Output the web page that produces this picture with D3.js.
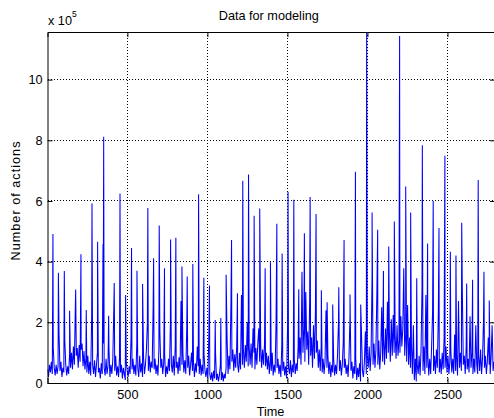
<!DOCTYPE html>
<html>
<head>
<meta charset="utf-8">
<script src="https://cdn.jsdelivr.net/npm/d3@7"></script>
<style>
  body { margin: 0; background: #fff; }
  text { font-family: "Liberation Sans", Arial, sans-serif; }
</style>
</head>
<body>
<div id="chart"></div>
<script>
// tick values
const xTicks = [500, 1000, 1500, 2000, 2500];
const yTicks = [0, 2, 4, 6, 8, 10];   // in units of 10^5

// main spikes (time, value x 10^5)
const spikeTimes = [35, 69, 106, 139, 177, 210, 243, 279, 314, 348, 352, 383, 418, 454, 489,
  526, 560, 595, 628, 664, 699, 732, 770, 803, 841, 874, 909, 945, 978, 1013,
  1049, 1084, 1117, 1151, 1188, 1221, 1257, 1292, 1327, 1361, 1394, 1434, 1467, 1504, 1540,
  1571, 1606, 1642, 1679, 1712, 1748, 1783, 1821, 1854, 1891, 1925, 1958, 1995, 2029, 2064,
  2100, 2133, 2168, 2199, 2201, 2239, 2270, 2308, 2343, 2376, 2411, 2447, 2484, 2518, 2553,
  2589, 2620, 2657, 2692, 2728, 2761];
const spikeValues = [4.91, 3.63, 3.69, 2.38, 3.08, 4.24, 2.41, 5.92, 4.66, 4.58, 8.12, 2.22, 3.30, 6.25, 2.90,
  4.45, 3.70, 3.26, 5.77, 4.11, 5.19, 3.78, 4.73, 4.79, 3.84, 3.51, 3.92, 6.22, 3.47, 3.21,
  2.08, 2.14, 3.57, 4.71, 2.96, 6.67, 6.87, 5.51, 5.75, 3.78, 3.98, 5.25, 4.27, 6.30, 6.04,
  3.09, 4.94, 6.13, 5.57, 3.06, 2.66, 2.59, 3.16, 4.71, 2.92, 6.96, 2.59, 11.57, 5.62, 5.05,
  3.69, 4.50, 5.32, 6.48, 11.44, 6.48, 5.62, 3.45, 7.84, 4.60, 6.00, 5.11, 7.49, 4.33, 4.20,
  5.28, 3.28, 3.40, 6.69, 3.67, 2.72];

// the band between spikes, one value every 6 time units starting at t = 1
const baseStart = 1, baseStep = 6;
const baseValues = [
  0.45, 0.2, 0.6, 0.35, 0.7, 0.3, 1.15, 0.5, 0.25, 0.6,
  0.3, 0.55, 1.65, 0.4, 0.7, 0.2, 0.5, 0.35, 1.4, 0.6,
  0.25, 0.55, 0.3, 0.95, 0.5, 1.0, 0.45, 1.2, 0.6, 2.55,
  0.9, 1.15, 0.5, 1.25, 0.7, 1.1, 1.3, 0.55, 1.05, 0.45,
  0.8, 0.35, 0.9, 0.3, 0.7, 0.25, 2.2, 0.6, 0.3, 0.75,
  0.2, 0.6, 1.0, 0.35, 0.5, 0.15, 0.65, 0.3, 1.3, 0.5,
  0.25, 0.8, 0.3, 0.55, 1.15, 0.2, 0.6, 0.3, 0.75, 2.38,
  0.4, 0.9, 0.25, 0.55, 0.2, 0.85, 0.35, 0.6, 0.15, 0.5,
  0.3, 0.1, 0.7, 0.4, 0.2, 0.55, 0.3, 1.5, 0.45, 0.8,
  0.3, 0.6, 0.25, 1.3, 0.5, 0.2, 0.9, 0.35, 0.65, 0.2,
  0.85, 0.3, 0.6, 1.1, 1.95, 0.4, 0.9, 0.35, 0.7, 0.5,
  2.5, 0.45, 0.8, 0.3, 0.6, 0.25, 1.1, 1.7, 0.5, 0.8,
  0.3, 0.65, 0.95, 0.2, 0.55, 0.3, 0.8, 0.4, 2.0, 0.6,
  0.35, 0.9, 0.25, 1.2, 0.5, 0.7, 0.3, 0.85, 0.4, 2.7,
  0.6, 1.0, 0.35, 0.75, 0.3, 1.8, 0.5, 0.9, 0.25, 0.6,
  1.0, 0.4, 0.7, 0.2, 0.65, 0.35, 1.2, 0.55, 0.3, 0.8,
  0.25, 0.6, 0.3, 0.95, 0.4, 0.2, 0.5, 0.15, 1.56, 0.3,
  0.1, 0.35, 0.05, 0.4, 0.15, 1.0, 0.1, 0.3, 0.05, 0.25,
  0.6, 0.1, 0.35, 0.05, 0.3, 0.15, 0.5, 1.5, 0.3, 0.9,
  0.45, 2.6, 0.7, 1.1, 0.4, 0.95, 0.5, 1.2, 0.6, 0.35,
  1.0, 0.45, 2.9, 0.6, 1.1, 0.5, 1.25, 0.7, 2.0, 0.55,
  1.2, 0.6, 1.3, 0.5, 1.8, 1.0, 0.45, 1.15, 0.6, 1.3,
  1.8, 0.7, 1.25, 0.5, 1.1, 0.6, 1.3, 0.55, 1.0, 0.45,
  0.9, 0.3, 0.75, 0.4, 1.0, 0.25, 0.6, 0.35, 2.0, 0.5,
  0.8, 0.3, 0.6, 0.2, 1.25, 0.4, 0.7, 0.25, 0.55, 0.15,
  1.9, 0.5, 0.3, 0.75, 0.2, 0.6, 0.35, 0.8, 0.3, 0.65,
  0.4, 1.2, 0.8, 1.5, 0.6, 3.67, 1.0, 1.8, 0.7, 3.0,
  1.1, 1.7, 0.6, 2.68, 0.9, 1.5, 0.5, 1.9, 0.8, 2.35,
  1.0, 1.4, 0.5, 1.1, 0.4, 1.2, 0.35, 0.8, 0.3, 0.7,
  2.4, 0.5, 0.9, 0.3, 0.7, 0.2, 0.6, 0.35, 0.8, 0.25,
  0.6, 0.3, 0.9, 2.0, 0.4, 0.75, 0.25, 0.6, 1.36, 0.5,
  0.8, 0.3, 0.6, 0.2, 0.9, 2.2, 0.4, 0.7, 0.15, 0.55,
  0.3, 0.8, 0.1, 0.5, 0.2, 0.65, 0.05, 1.6, 0.4, 0.2,
  0.7, 1.7, 0.3, 0.9, 0.5, 1.2, 0.4, 1.0, 3.6, 0.6,
  1.3, 0.5, 1.1, 3.0, 0.6, 1.4, 0.45, 1.0, 2.5, 0.7,
  1.5, 0.6, 1.8, 0.8, 2.68, 1.0, 1.7, 0.7, 2.1, 0.9,
  2.24, 1.0, 1.6, 0.8, 1.9, 0.9, 1.4, 1.0, 2.2, 1.2,
  1.8, 3.78, 0.9, 1.6, 0.7, 2.57, 0.6, 1.5, 0.5, 1.2,
  0.3, 1.9, 0.1, 0.8, 0.05, 0.6, 0.3, 0.9, 0.25, 1.1,
  3.12, 0.4, 1.2, 0.3, 2.9, 0.5, 1.0, 0.25, 0.8, 0.3,
  1.2, 2.35, 0.4, 0.9, 0.3, 1.1, 0.5, 2.35, 0.35, 0.8,
  0.3, 1.0, 0.45, 1.5, 0.5, 1.2, 0.35, 0.9, 0.3, 0.7,
  1.1, 0.35, 0.8, 0.3, 1.6, 0.4, 0.9, 0.25, 2.7, 0.5,
  1.0, 0.4, 3.0, 0.6, 0.9, 0.3, 1.2, 0.45, 0.8, 0.35,
  2.2, 0.5, 1.0, 0.3, 0.8, 0.35, 1.9, 0.6, 0.3, 0.9,
  0.4, 1.1, 0.3, 0.8, 2.0, 0.5, 0.9, 0.3, 0.7, 1.5,
  0.6, 0.3, 0.9, 1.9, 0.4, 0.7
];

const W = 494, H = 418;
const plotLeft = 47.5, plotRight = 495, plotTop = 32, plotBottom = 383;

// merge band and spikes into one series ordered by time
const series = baseValues.map((v, i) => ({t: baseStart + i * baseStep, v: v}))
  .concat(spikeTimes.map((t, i) => ({t: t, v: spikeValues[i]})))
  .sort((a, b) => a.t - b.t);

const x = d3.scaleLinear().domain([1, 2797]).range([plotLeft, plotRight]);
const y = d3.scaleLinear().domain([0, 11.57]).range([plotBottom, plotTop]);

const svg = d3.select("#chart").append("svg")
    .attr("width", W)
    .attr("height", H);

svg.append("rect").attr("width", W).attr("height", H).attr("fill", "#fff");

svg.append("defs").append("clipPath").attr("id", "plotclip")
  .append("rect")
    .attr("x", plotLeft).attr("y", plotTop)
    .attr("width", plotRight - plotLeft).attr("height", plotBottom - plotTop);

// dotted grid
const grid = svg.append("g")
    .attr("stroke", "#000")
    .attr("stroke-width", 1)
    .attr("stroke-dasharray", "1,2")
    .attr("shape-rendering", "crispEdges");
grid.selectAll(".gx").data(xTicks).join("line")
    .attr("x1", d => x(d)).attr("x2", d => x(d))
    .attr("y1", plotTop).attr("y2", plotBottom);
grid.selectAll(".gy").data(yTicks.filter(d => d > 0)).join("line")
    .attr("x1", plotLeft).attr("x2", plotRight)
    .attr("y1", d => y(d)).attr("y2", d => y(d));

// the data line
svg.append("path")
    .datum(series)
    .attr("clip-path", "url(#plotclip)")
    .attr("fill", "none")
    .attr("stroke", "#0000ff")
    .attr("stroke-width", 1.05)
    .attr("d", d3.line().x(d => x(d.t)).y(d => y(d.v)));

// axes, ticks pointing inward like matlab
const fmt = d => String(d);
const axB = svg.append("g").attr("transform", `translate(0,${plotBottom})`)
    .call(d3.axisBottom(x).tickValues(xTicks).tickSize(-5).tickPadding(7).tickFormat(fmt));
const axT = svg.append("g").attr("transform", `translate(0,${plotTop})`)
    .call(d3.axisTop(x).tickValues(xTicks).tickSize(-5).tickFormat(""));
const axL = svg.append("g").attr("transform", `translate(${plotLeft},0)`)
    .call(d3.axisLeft(y).tickValues(yTicks).tickSize(-5).tickPadding(5).tickFormat(fmt));
const axR = svg.append("g").attr("transform", `translate(${plotRight},0)`)
    .call(d3.axisRight(y).tickValues(yTicks).tickSize(-5).tickFormat(""));

[axB, axT, axL, axR].forEach(g => {
  g.select(".domain").attr("stroke", "#000");
  g.selectAll(".tick line").attr("stroke", "#000");
  g.selectAll(".tick text")
    .attr("font-family", '"Liberation Sans", Arial, sans-serif')
    .attr("font-size", "12.7px")
    .attr("fill", "#000");
});

// labels
svg.append("text")
    .attr("x", 268.8).attr("y", 19.5)
    .attr("text-anchor", "middle")
    .attr("font-size", "12.7px")
    .text("Data for modeling");

svg.append("text")
    .attr("x", 270.5).attr("y", 416)
    .attr("text-anchor", "middle")
    .attr("font-size", "12.7px")
    .text("Time");

svg.append("text")
    .attr("transform", "translate(20,200.5) rotate(-90)")
    .attr("text-anchor", "middle")
    .attr("font-size", "12.7px")
    .attr("letter-spacing", "1px")
    .text("Number of actions");

const mult = svg.append("text")
    .attr("x", 48).attr("y", 25)
    .attr("font-size", "12.7px");
mult.append("tspan").text("x 10");
mult.append("tspan")
    .attr("dy", -8)
    .attr("font-size", "8.5px")
    .text("5");
</script>
</body>
</html>
